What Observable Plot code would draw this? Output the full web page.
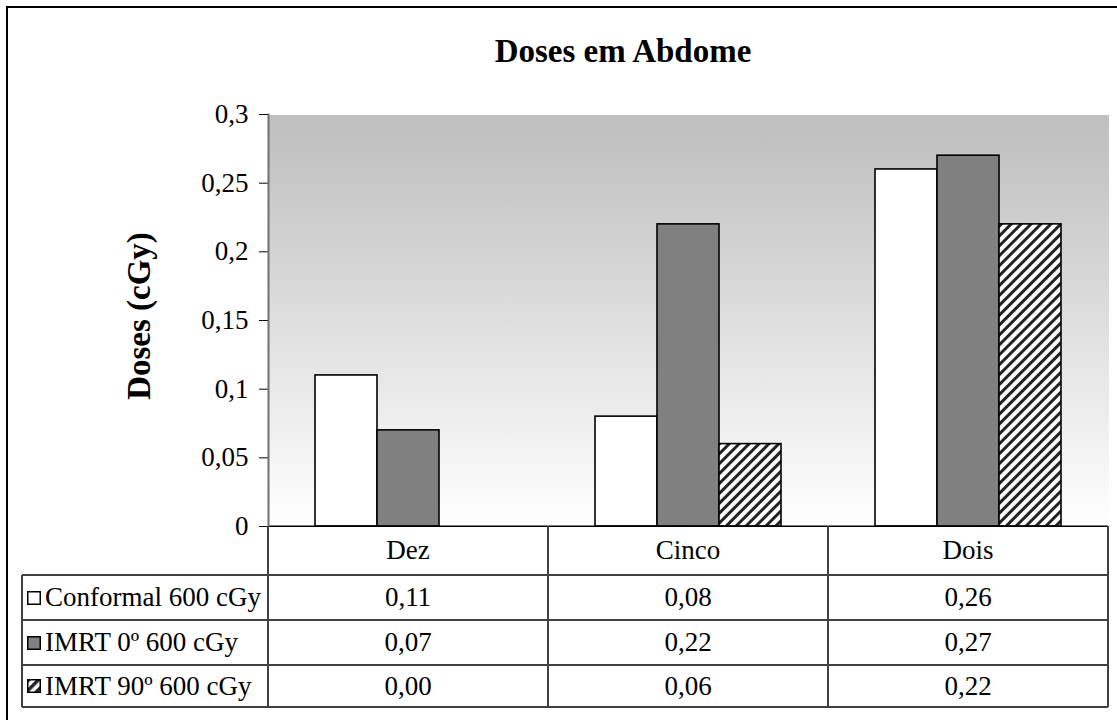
<!DOCTYPE html>
<html>
<head>
<meta charset="utf-8">
<script src="https://cdn.jsdelivr.net/npm/d3@7"></script>
<script src="https://cdn.jsdelivr.net/npm/@observablehq/plot@0.6"></script>
<style>
  html, body { margin: 0; padding: 0; background: #fff; overflow: hidden; }
  #fig { position: relative; width: 1117px; height: 720px; overflow: hidden;
         font-family: "Liberation Serif", "Times New Roman", serif; color: #000; background: #fff; }
  #border { position: absolute; left: 6px; top: 6px; width: 1130px; height: 730px;
            border: 2px solid #000; box-sizing: border-box; }
  #title { position: absolute; top: 35px; left: 623px; transform: translateX(-50%);
           font-family: "Liberation Serif", serif; font-size: 33px; font-weight: bold; line-height: 33px; white-space: nowrap; }
  #ytitle { position: absolute; left: 139px; top: 316px; font-family: "Liberation Serif", serif; font-size: 33px; font-weight: bold;
            white-space: nowrap; line-height: 33px; transform: translate(-50%, -50%) rotate(-90deg); }
  #chart { position: absolute; left: 0; top: 0; }
  .hline, .vline { position: absolute; background: #404040; }
  .tcell { position: absolute; font-family: "Liberation Serif", "Times New Roman", serif;
           font-size: 27px; line-height: 27px; white-space: nowrap; color: #000; }
</style>
</head>
<body>
<div id="fig">
  <div id="border"></div>
  <div id="chart"></div>
  <div id="title">Doses em Abdome</div>
  <div id="ytitle">Doses (cGy)</div>
</div>
<script>
// Dose per region for each treatment technique (cGy)
const categories = ["Dez", "Cinco", "Dois"];
const series = ["Conformal 600 cGy", "IMRT 0º 600 cGy", "IMRT 90º 600 cGy"];
const conformal = [0.11, 0.08, 0.26];
const imrt0 = [0.07, 0.22, 0.27];
const imrt90 = [0.00, 0.06, 0.22];
const yTicks = [0, 0.05, 0.1, 0.15, 0.2, 0.25, 0.3];

const seriesValues = [conformal, imrt0, imrt90];
const seriesFill = ["#ffffff", "#808080", "url(#hatch)"];

const rows = categories.flatMap((c, i) =>
  series.map((s, j) => ({category: c, series: s, value: seriesValues[j][i]}))
);

const fmt = d => String(d).replace(".", ",");

const chart = Plot.plot({
  width: 1117,
  height: 540,
  marginLeft: 268,
  marginRight: 9,
  marginTop: 114,
  marginBottom: 14,
  style: {fontFamily: "Liberation Serif, serif", fontSize: "27px", color: "#000", background: "transparent", overflow: "visible"},
  fx: {domain: categories, padding: 0, axis: null, label: null},
  x: {domain: series, paddingInner: 0, paddingOuter: 0.758, axis: null},
  y: {domain: [0, 0.3], axis: null, label: null},
  marks: [
    Plot.frame({fill: "url(#bgGrad)", stroke: "none", shapeRendering: "crispEdges"}),
    ...series.map((s, j) =>
      Plot.barY(rows.filter(d => d.series === s), {
        fx: "category", x: "series", y: "value",
        fill: seriesFill[j], stroke: "#000", strokeWidth: 1.6
      })
    ),
    Plot.ruleY([0], {stroke: "#000", strokeWidth: 2}),
    Plot.axisY(yTicks, {label: null, tickSize: 9, tickPadding: 11, tickFormat: fmt, stroke: "#000", fill: "#000", fontSize: 27}),
    Plot.frame({anchor: "left", facetAnchor: "left", stroke: "#707070", strokeWidth: 2})
  ]
});

// gradient background and hatch pattern
const defs = d3.select(chart).insert("defs", ":first-child");
const grad = defs.append("linearGradient").attr("id", "bgGrad")
  .attr("x1", 0).attr("y1", 0).attr("x2", 0).attr("y2", 1);
grad.append("stop").attr("offset", "0%").attr("stop-color", "#c0c0c0");
grad.append("stop").attr("offset", "8%").attr("stop-color", "#c2c2c2");
grad.append("stop").attr("offset", "100%").attr("stop-color", "#ffffff");
const pat = defs.append("pattern").attr("id", "hatch").attr("patternUnits", "userSpaceOnUse")
  .attr("width", 7).attr("height", 7).attr("patternTransform", "rotate(45)");
pat.append("rect").attr("width", 7).attr("height", 7).attr("fill", "#fff");
pat.append("rect").attr("width", 3).attr("height", 7).attr("fill", "#222");

document.getElementById("chart").appendChild(chart);

// data table beneath the plot, aligned with the fx bands
const fig = document.getElementById("fig");
const fx = chart.scale("fx");
const bw = fx.bandwidth;
const colLeft = categories.map(c => fx.apply(c));
const plotLeft = colLeft[0];
const plotRight = colLeft[colLeft.length - 1] + bw;
const tableLeft = 22;
const rowEdges = [526, 575, 620, 665, 707];
const lw = 1.5;

function line(cls, x, y, w, h) {
  const el = document.createElement("div");
  el.className = cls;
  Object.assign(el.style, {left: x + "px", top: y + "px", width: w + "px", height: h + "px"});
  fig.appendChild(el);
}
function cell(html, x, y, w, h, align) {
  const el = document.createElement("div");
  el.className = "tcell";
  el.innerHTML = html;
  Object.assign(el.style, {left: x + "px", top: y + "px", width: w + "px", height: h + "px",
    display: "flex", alignItems: "center", justifyContent: align});
  fig.appendChild(el);
}

// white background under the table
const bg = document.createElement("div");
Object.assign(bg.style, {position: "absolute", left: plotLeft + "px", top: (rowEdges[0] + 1) + "px",
  width: (plotRight - plotLeft) + "px", height: (rowEdges[1] - rowEdges[0]) + "px", background: "#fff"});
fig.appendChild(bg);

// horizontal rules
for (let r = 1; r < rowEdges.length; r++) {
  line("hline", tableLeft, rowEdges[r] - lw / 2, plotRight - tableLeft, lw);
}
// vertical rules
line("vline", tableLeft - lw / 2, rowEdges[1], lw, rowEdges[4] - rowEdges[1]);
colLeft.forEach(x => line("vline", x - lw / 2, rowEdges[0], lw, rowEdges[4] - rowEdges[0]));
line("vline", plotRight - lw / 2, rowEdges[0], lw, rowEdges[4] - rowEdges[0]);

// category header row
categories.forEach((c, i) => cell(c, colLeft[i], rowEdges[0], bw, rowEdges[1] - rowEdges[0], "center"));

// legend keys
function key(j) {
  const fill = seriesFill[j];
  return `<svg width="14" height="14" style="margin-right:4px;flex:none">` +
    (j === 2
      ? `<defs><pattern id="keyHatch" patternUnits="userSpaceOnUse" width="7" height="7" patternTransform="rotate(45)"><rect width="7" height="7" fill="#fff"/><rect width="3.5" height="7" fill="#222"/></pattern></defs><rect x="0.75" y="0.75" width="12.5" height="12.5" fill="url(#keyHatch)" stroke="#000" stroke-width="1.5"/>`
      : `<rect x="0.75" y="0.75" width="12.5" height="12.5" fill="${fill}" stroke="#000" stroke-width="1.5"/>`) +
    `</svg>`;
}

// series rows
series.forEach((s, j) => {
  const y0 = rowEdges[j + 1], h = rowEdges[j + 2] - y0;
  cell(key(j) + "<span>" + s + "</span>", tableLeft + 5, y0, plotLeft - tableLeft - 5, h, "flex-start");
  categories.forEach((c, i) => cell(seriesValues[j][i].toFixed(2).replace(".", ","), colLeft[i], y0, bw, h, "center"));
});
</script>
</body>
</html>
